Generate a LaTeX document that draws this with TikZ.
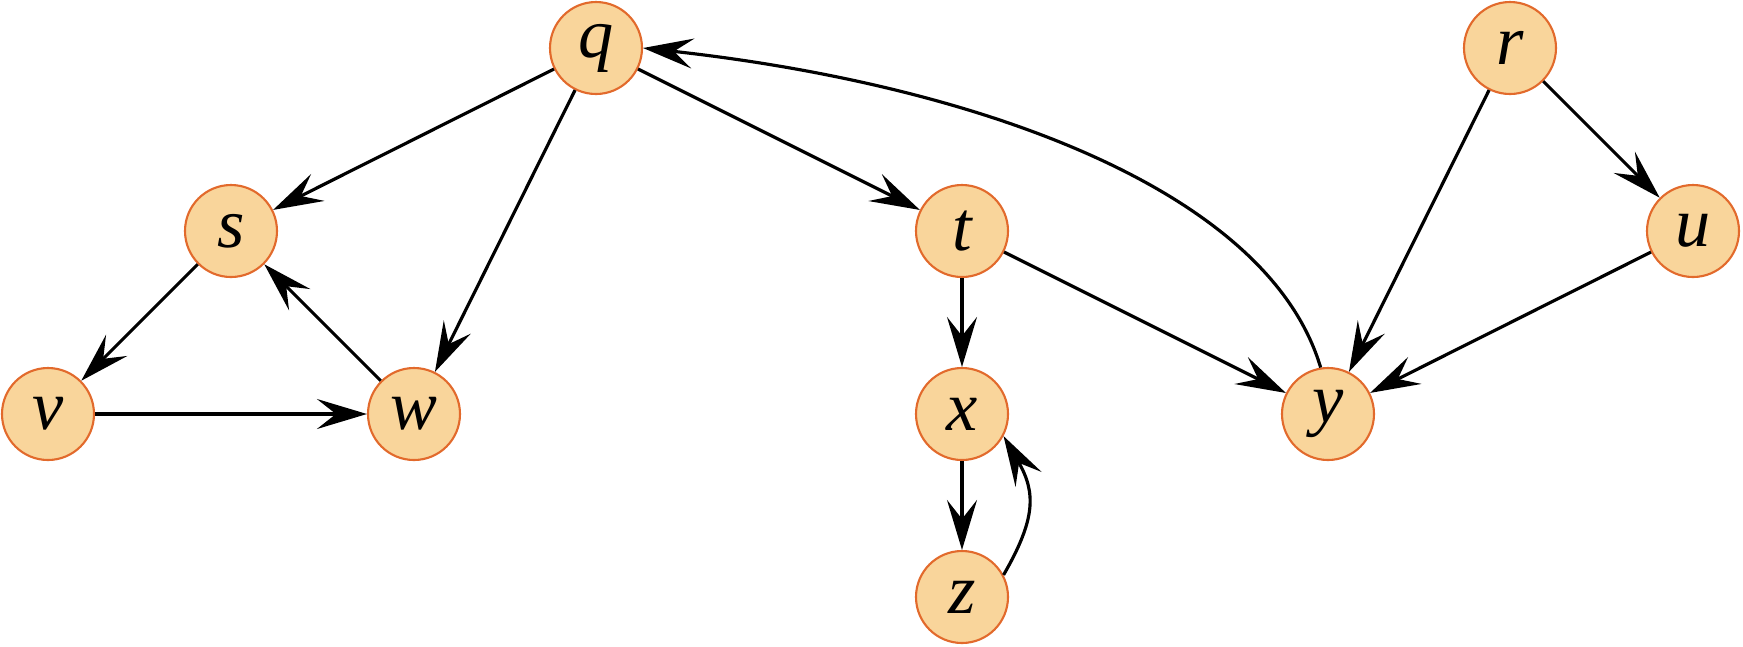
\documentclass[tikz,border=0pt]{standalone}
\usepackage{fontspec}
\setmainfont{Liberation Serif}
\usetikzlibrary{arrows.meta}
\definecolor{nodefill}{HTML}{F9D59B}
\definecolor{nodeline}{HTML}{E26A2C}
\tikzset{
  vtx/.style={circle, draw=nodeline, line width=0.6pt, fill=nodefill, minimum size=0.92cm, inner sep=0pt, font=\fontsize{20}{24}\selectfont\itshape},
  edge/.style={line width=0.9pt, -{Stealth[length=0.5cm, width=0.3cm, inset=0.19cm]}}
}
\begin{document}
\begin{tikzpicture}
\useasboundingbox (0,0) rectangle (17.43,-6.46);
\node[vtx] (q) at (5.96,-0.48) {q};
\node[vtx] (s) at (2.31,-2.31) {s};
\node[vtx] (t) at (9.62,-2.31) {t};
\node[vtx] (r) at (15.10,-0.48) {r};
\node[vtx] (u) at (16.93,-2.31) {u};
\node[vtx] (v) at (0.48,-4.14) {v};
\node[vtx] (w) at (4.14,-4.14) {w};
\node[vtx] (x) at (9.62,-4.14) {x};
\node[vtx] (y) at (13.28,-4.14) {y};
\node[vtx] (z) at (9.62,-5.97) {z};
\draw[edge] (q) -- (s);
\draw[edge] (q) -- (w);
\draw[edge] (q) -- (t);
\draw[edge] (s) -- (v);
\draw[edge] (w) -- (s);
\draw[edge] (v) -- (w);
\draw[edge] (t) -- (x);
\draw[edge] (t) -- (y);
\draw[edge] (x) -- (z);
\draw[edge] (z.28) to[out=60,in=-60,looseness=1.2] (x.-28);
\draw[edge] (y.99) .. controls (12.67,-1.87) and (9.70,-0.84) .. (q.0);
\draw[edge] (r) -- (y);
\draw[edge] (r) -- (u);
\draw[edge] (u) -- (y);
\end{tikzpicture}
\end{document}
